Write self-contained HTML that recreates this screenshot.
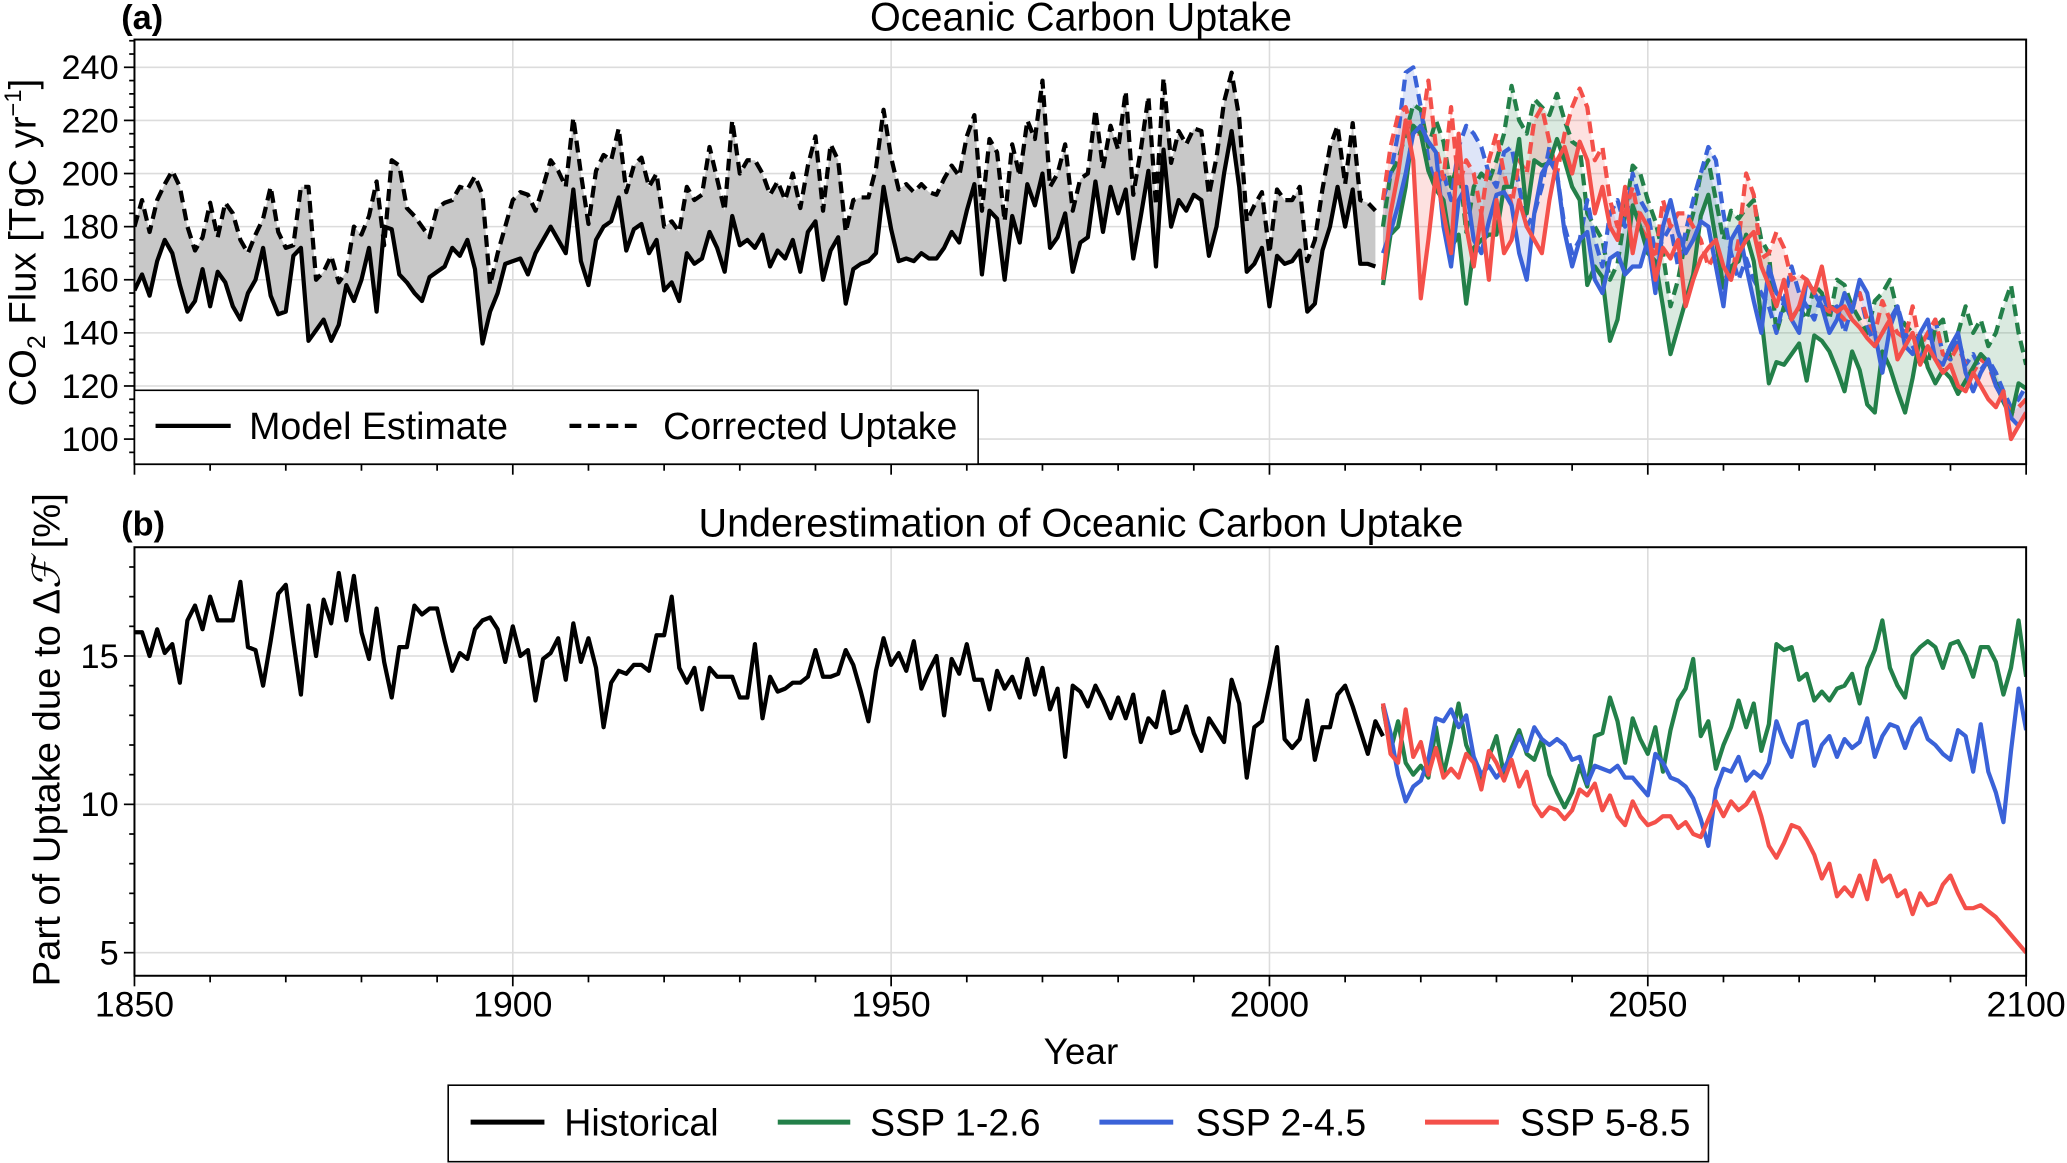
<!DOCTYPE html>
<html><head><meta charset="utf-8"><style>
html,body{margin:0;padding:0;background:#fff}
svg{display:block;font-family:"Liberation Sans",Arial,sans-serif}
</style></head><body>
<svg id="fig" width="2067" height="1163" viewBox="0 0 1568 882" preserveAspectRatio="none" xmlns="http://www.w3.org/2000/svg">
<defs>
<clipPath id="clipA"><rect x="102" y="30" width="1435" height="322"/></clipPath>
<clipPath id="clipB"><rect x="102" y="415" width="1435" height="325"/></clipPath>
</defs>
<g id="gridA"></g>
<g id="gridB"></g>
<g id="marksA" clip-path="url(#clipA)"></g>
<g id="marksB" clip-path="url(#clipB)"></g>
<g id="axes"></g>
<text x="92" y="22" font-size="26" font-weight="bold">(a)</text>
<text x="820" y="23" font-size="30" text-anchor="middle">Oceanic Carbon Uptake</text>
<text x="92" y="406" font-size="26" font-weight="bold">(b)</text>
<text x="820" y="407" font-size="30" text-anchor="middle">Underestimation of Oceanic Carbon Uptake</text>
<text transform="translate(27,184) rotate(-90)" font-size="29" text-anchor="middle">CO<tspan font-size="19" dy="7">2</tspan><tspan dy="-7"> Flux [TgC  yr</tspan><tspan font-size="18" dy="-11">−1</tspan><tspan dy="11">]</tspan></text>
<text transform="translate(45,561) rotate(-90)" font-size="29" text-anchor="middle">Part of Uptake due to Δ<tspan font-family="DejaVu Serif, serif" font-style="italic">ℱ</tspan> [%]</text>
<text x="820" y="807" font-size="28" text-anchor="middle">Year</text>
<g>
<rect x="102" y="296" width="640" height="56" fill="#fff" stroke="#000" stroke-width="1.2"/>
<line x1="118" y1="323" x2="175" y2="323" stroke="#000" stroke-width="3.2"/>
<text x="189" y="333" font-size="28.5">Model Estimate</text>
<line x1="432" y1="323" x2="488" y2="323" stroke="#000" stroke-width="3.2" stroke-dasharray="9,5"/>
<text x="503" y="333" font-size="28.5">Corrected Uptake</text>
</g>
<g>
<rect x="340" y="823" width="956" height="58" fill="#fff" stroke="#000" stroke-width="1.2"/>
<line x1="357" y1="851" x2="413" y2="851" stroke="#000" stroke-width="3.8"/>
<text x="428" y="861" font-size="28.5">Historical</text>
<line x1="590" y1="851" x2="645" y2="851" stroke="#238049" stroke-width="3.8"/>
<text x="660" y="861" font-size="28.5">SSP 1-2.6</text>
<line x1="834" y1="851" x2="890" y2="851" stroke="#3a62d8" stroke-width="3.8"/>
<text x="907" y="861" font-size="28.5">SSP 2-4.5</text>
<line x1="1081" y1="851" x2="1137" y2="851" stroke="#f4504a" stroke-width="3.8"/>
<text x="1153" y="861" font-size="28.5">SSP 5-8.5</text>
</g>
</svg>
<script>
const histStart = 1850;
const scenStart = 2015;
const xTicks = [1850, 1900, 1950, 2000, 2050, 2100];
const yTicksA = [100, 120, 140, 160, 180, 200, 220, 240];
const yTicksB = [5, 10, 15];
const histModel = [156,162,154,167,175,170,158,148,152,164,150,163,159,150,145,155,160,172,154,147,148,169,172,137,141,145,137,143,158,152,160,172,148,180,179,162,159,155,152,161,163,165,172,169,175,164,136,148,155,166,167,168,162,170,175,180,175,170,194,167,158,175,180,182,191,171,179,181,170,175,156,159,152,170,166,168,178,172,163,184,173,175,172,177,165,171,168,175,163,178,182,160,171,176,151,164,166,167,170,195,179,167,168,167,170,168,168,172,178,174,186,196,162,186,183,160,184,174,196,188,200,172,176,185,163,174,176,197,178,195,185,194,168,184,201,165,209,180,190,186,192,190,169,180,200,216,195,163,166,172,150,169,166,167,171,148,151,171,180,195,180,194,166,166,165];
const histCorr = [180,190,178,190,196,201,195,180,171,176,189,176,189,185,175,170,177,183,195,178,172,173,195,195,160,163,169,159,163,180,177,184,197,173,205,203,187,184,180,176,187,189,190,195,194,199,192,158,170,180,190,193,192,186,195,205,201,195,221,200,181,201,207,205,217,193,203,206,195,200,180,182,178,195,190,192,210,198,186,220,200,205,205,200,192,197,190,200,187,203,214,186,211,205,178,190,191,191,202,224,206,194,196,193,196,193,192,198,203,199,214,222,186,213,208,182,211,199,220,213,235,195,200,211,186,198,200,224,202,218,209,231,192,209,229,188,236,204,216,211,217,216,192,206,227,238,221,182,188,193,170,194,190,190,195,167,175,194,210,218,196,219,190,189,186];
const g126Model = [158,177,180,195,218,215,201,194,190,172,177,151,172,175,177,177,195,195,213,185,205,203,204,213,205,195,190,158,165,161,137,145,165,188,180,170,167,150,132,142,152,162,184,192,175,157,165,167,177,167,146,121,129,128,132,136,122,139,137,133,126,118,133,126,113,110,133,127,118,110,123,139,127,121,126,123,117,122,127,132,129,121,114,108,121,119];
const g126Corr = [180,200,205,215,226,224,210,220,212,195,205,178,195,200,197,205,215,233,220,215,228,225,222,230,220,212,210,185,180,175,160,166,185,203,200,190,182,170,150,160,175,185,200,205,190,175,186,183,187,190,175,170,140,150,145,150,145,158,155,145,160,158,150,145,140,152,155,160,148,143,140,132,128,142,145,130,140,150,140,145,135,140,150,158,140,128];
const b245Model = [170,178,188,200,215,218,212,208,180,165,190,195,175,170,182,192,193,188,170,160,185,200,205,200,178,165,175,178,160,155,168,170,162,165,165,175,155,180,190,178,170,175,182,180,165,150,175,180,165,152,140,165,155,152,145,140,160,155,150,140,145,155,148,160,155,140,125,142,150,135,132,140,145,130,128,135,140,125,118,125,130,120,115,108,105,110];
const b245Corr = [190,200,215,238,240,225,205,195,200,190,210,218,215,210,200,195,208,210,195,180,185,195,210,200,180,170,175,190,175,165,185,190,180,200,190,185,170,175,180,165,178,190,200,210,205,185,170,160,168,160,155,150,140,152,165,155,150,145,155,148,150,140,150,155,143,135,140,145,150,140,135,130,138,145,132,130,138,128,132,126,130,125,118,112,115,120];
const r585Model = [160,185,200,220,205,153,175,200,185,170,215,180,165,185,160,190,170,175,190,180,175,170,190,205,210,200,212,205,185,195,180,175,195,170,185,180,160,172,168,175,150,160,168,172,175,165,160,170,175,178,165,158,150,160,145,150,160,155,165,150,148,150,145,142,138,135,140,145,130,135,140,128,135,130,125,128,120,118,125,120,115,112,118,100,105,110];
const r585Corr = [190,210,222,225,215,215,235,210,198,225,195,205,200,185,205,215,200,188,205,200,220,225,212,200,215,225,232,225,205,210,190,180,185,195,180,175,168,190,180,185,185,180,175,165,170,162,160,175,200,192,168,170,178,172,160,162,160,155,150,148,148,145,150,155,145,140,152,145,140,138,150,135,140,145,132,130,135,128,125,130,128,120,115,110,112,115];
const histPct = [15.8,15.8,15.0,15.9,15.1,15.4,14.1,16.2,16.7,15.9,17.0,16.2,16.2,16.2,17.5,15.3,15.2,14.0,15.5,17.1,17.4,15.5,13.7,16.7,15.0,16.9,16.1,17.8,16.2,17.7,15.8,14.9,16.6,14.8,13.6,15.3,15.3,16.7,16.4,16.6,16.6,15.5,14.5,15.1,14.9,15.9,16.2,16.3,15.9,14.8,16.0,15.0,15.2,13.5,14.9,15.1,15.6,14.2,16.1,14.8,15.6,14.6,12.6,14.1,14.5,14.4,14.7,14.7,14.5,15.7,15.7,17.0,14.6,14.1,14.6,13.2,14.6,14.3,14.3,14.3,13.6,13.6,15.4,12.9,14.3,13.8,13.9,14.1,14.1,14.3,15.2,14.3,14.3,14.4,15.2,14.7,13.8,12.8,14.5,15.6,14.7,15.1,14.5,15.5,13.9,14.5,15.0,13.0,14.9,14.4,15.4,14.2,14.2,13.2,14.5,13.9,14.3,13.6,14.9,13.7,14.6,13.2,13.9,11.6,14.0,13.8,13.3,14.0,13.5,12.9,13.6,12.9,13.7,12.1,12.9,12.6,13.8,12.4,12.5,13.3,12.4,11.8,12.9,12.5,12.1,14.2,13.4,10.9,12.6,12.8,14.0,15.3,12.2,11.9,12.2,13.5,11.5,12.6,12.6,13.7,14.0,13.3,12.5,11.7,12.8,12.3];
const g126Pct = [13.3,11.8,12.8,11.4,11.0,11.3,10.9,12.6,11.0,12.1,13.4,12.0,11.4,10.8,11.6,12.3,11.0,11.9,12.5,11.7,11.5,12.2,11.0,10.4,9.9,10.4,11.3,10.6,12.3,12.4,13.6,12.8,11.4,12.9,12.2,11.7,12.6,11.1,12.5,13.5,13.9,14.9,12.3,12.8,11.2,12.0,12.6,13.5,12.6,13.4,11.8,12.7,15.4,15.2,15.3,14.2,14.4,13.5,13.8,13.5,13.9,14.0,14.4,13.4,14.6,15.2,16.2,14.6,14.0,13.6,15.0,15.3,15.5,15.3,14.6,15.4,15.5,15.0,14.3,15.3,15.3,14.8,13.7,14.6,16.2,14.3];
const b245Pct = [13.4,12.4,11.0,10.1,10.6,10.8,11.5,12.9,12.8,13.2,12.6,13.0,11.6,11.0,11.3,10.9,11.2,11.7,12.3,11.8,12.6,12.2,12.0,12.2,12.0,11.5,11.6,10.7,11.3,11.2,11.1,11.3,10.9,10.9,10.6,10.3,11.7,11.4,10.9,10.8,10.6,10.2,9.5,8.6,10.5,11.2,11.1,11.6,10.8,11.1,10.9,11.4,12.8,12.1,11.6,12.7,12.8,11.3,12.0,12.3,11.6,12.2,11.9,12.1,12.9,11.6,12.3,12.7,12.6,11.9,12.6,12.9,12.2,12.0,11.7,11.5,12.5,12.3,11.1,12.7,11.1,10.4,9.4,11.8,13.9,12.5];
const r585Pct = [13.4,11.7,11.4,13.2,11.6,12.1,11.0,11.9,10.9,11.2,10.9,11.7,11.4,10.5,11.8,11.4,10.8,11.5,10.6,11.1,10.0,9.6,9.9,9.8,9.5,9.8,10.5,10.3,10.7,9.8,10.3,9.6,9.3,10.1,9.6,9.3,9.4,9.6,9.6,9.2,9.4,9.0,8.9,9.5,10.1,9.6,10.1,9.8,10.0,10.4,9.6,8.6,8.2,8.7,9.3,9.2,8.8,8.3,7.5,8.0,6.9,7.2,6.9,7.6,6.8,8.1,7.4,7.6,6.9,7.1,6.3,7.0,6.6,6.7,7.3,7.6,7.0,6.5,6.5,6.6,6.4,6.2,5.9,5.6,5.3,5.0];

const NS = 'http://www.w3.org/2000/svg';
const L = 102, R = 1537;
const xS = yr => L + (yr - 1850) * (R - L) / 250;
const yA = v => 333 - (v - 100) * 2.014;
const yB = v => 610 - (v - 10) * 22.5;
function mk(tag, attrs, parent) {
  const e = document.createElementNS(NS, tag);
  for (const k in attrs) e.setAttribute(k, attrs[k]);
  parent.appendChild(e);
  return e;
}
function pts(arr, start, yf) { return arr.map((v, i) => xS(start + i).toFixed(2) + ',' + yf(v).toFixed(2)); }

const gridA = document.getElementById('gridA'), gridB = document.getElementById('gridB');
yTicksA.forEach(v => { const e = mk('line', {x1: L, x2: R, y1: yA(v), y2: yA(v), stroke: '#dcdcdc', 'stroke-width': 1.2}, gridA);
  
   });
yTicksB.forEach(v => { const e = mk('line', {x1: L, x2: R, y1: yB(v), y2: yB(v), stroke: '#dcdcdc', 'stroke-width': 1.2}, gridB);
  
   });
xTicks.slice(1, -1).forEach(yr => {
  const a = mk('line', {x1: xS(yr), x2: xS(yr), y1: 30, y2: 352, stroke: '#dcdcdc', 'stroke-width': 1.2}, gridA);
  
  
  const b = mk('line', {x1: xS(yr), x2: xS(yr), y1: 415, y2: 740, stroke: '#dcdcdc', 'stroke-width': 1.2}, gridB);
  
  
});

const marksA = document.getElementById('marksA'), marksB = document.getElementById('marksB');
function band(lo, hi, start, fill, op, name) {
  const p = pts(lo, start, yA).concat(pts(hi, start, yA).reverse());
  const e = mk('polygon', {points: p.join(' '), fill: fill, 'fill-opacity': op, stroke: 'none'}, marksA);
  
  
}
function line(arr, start, yf, color, dash, parent, name) {
  const a = {points: pts(arr, start, yf).join(' '), fill: 'none', stroke: color, 'stroke-width': 3.2, 'stroke-linejoin': 'round'};
  if (dash) a['stroke-dasharray'] = '9,5';
  const e = mk('polyline', a, parent);
  
  
}
const G = '#238049', B = '#3a62d8', Rd = '#f4504a';
band(histModel, histCorr, histStart, '#c8c8c8', 1, 'historical-uncertainty-band');
band(g126Model, g126Corr, scenStart, G, 0.17, 'ssp126-band');
band(b245Model, b245Corr, scenStart, B, 0.17, 'ssp245-band');
band(r585Model, r585Corr, scenStart, Rd, 0.17, 'ssp585-band');
line(histModel, histStart, yA, '#000', false, marksA, 'historical-model-line');
line(histCorr, histStart, yA, '#000', true, marksA, 'historical-corrected-line');
line(g126Corr, scenStart, yA, G, true, marksA, 'ssp126-corrected-line');
line(b245Corr, scenStart, yA, B, true, marksA, 'ssp245-corrected-line');
line(r585Corr, scenStart, yA, Rd, true, marksA, 'ssp585-corrected-line');
line(g126Model, scenStart, yA, G, false, marksA, 'ssp126-model-line');
line(b245Model, scenStart, yA, B, false, marksA, 'ssp245-model-line');
line(r585Model, scenStart, yA, Rd, false, marksA, 'ssp585-model-line');
line(histPct, histStart, yB, '#000', false, marksB, 'historical-pct-line');
line(g126Pct, scenStart, yB, G, false, marksB, 'ssp126-pct-line');
line(b245Pct, scenStart, yB, B, false, marksB, 'ssp245-pct-line');
line(r585Pct, scenStart, yB, Rd, false, marksB, 'ssp585-pct-line');

const ax = document.getElementById('axes');
function frame(top, bot, name) {
  const e = mk('rect', {x: L, y: top, width: R - L, height: bot - top, fill: 'none', stroke: '#000', 'stroke-width': 1.5}, ax);
  
  
}
frame(30, 352, 'panel-a-frame');
frame(415, 740, 'panel-b-frame');
for (let yr = 1850; yr <= 2100; yr += 10) {
  const major = yr % 50 === 0, len = major ? 8 : 5;
  [352, 740].forEach(b => mk('line', {x1: xS(yr), x2: xS(yr), y1: b, y2: b + len, stroke: '#000', 'stroke-width': 1.3}, ax));
}
xTicks.forEach(yr => {
  const t = mk('text', {x: xS(yr), y: 771, 'font-size': 27, 'text-anchor': 'middle'}, ax);
  t.textContent = yr;
  
  
});
for (let v = 95; v <= 250; v += 5) {
  const y = yA(v); if (y < 30 || y > 352) continue;
  const major = v % 20 === 0;
  mk('line', {x1: L, x2: L - (major ? 8 : 4), y1: y, y2: y, stroke: '#000', 'stroke-width': 1.3}, ax);
}
yTicksA.forEach(v => {
  const t = mk('text', {x: L - 12, y: yA(v) + 9, 'font-size': 26, 'text-anchor': 'end'}, ax);
  t.textContent = v;
  
  
});
for (let v = 5; v <= 18; v += 1) {
  const y = yB(v); if (y < 415 || y > 740) continue;
  const major = v % 5 === 0;
  mk('line', {x1: L, x2: L - (major ? 8 : 4), y1: y, y2: y, stroke: '#000', 'stroke-width': 1.3}, ax);
}
yTicksB.forEach(v => {
  const t = mk('text', {x: L - 12, y: yB(v) + 9, 'font-size': 26, 'text-anchor': 'end'}, ax);
  t.textContent = v;
  
  
});
</script>
</body></html>
